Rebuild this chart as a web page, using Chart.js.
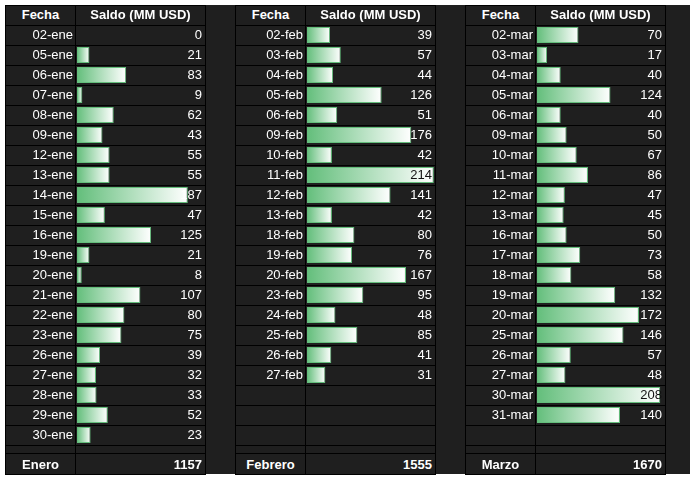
<!DOCTYPE html>
<html>
<head>
<meta charset="utf-8">
<script src="https://cdn.jsdelivr.net/npm/chart.js@4.4.1/dist/chart.umd.min.js"></script>
<style>
    html, body { margin: 0; padding: 0; background: #ffffff; }
    #sheet {
        position: absolute; left: 5px; top: 5px; width: 685px; height: 469px;
        background: #1f1f1f; color: #ffffff;
        font-family: "Liberation Sans", Arial, sans-serif; font-size: 13px;
    }
    .tbl { position: absolute; top: 0; width: 201px; height: 470px; }
    .hl { position: absolute; left: 0; width: 201px; height: 1px; background: #000; }
    .vl { position: absolute; top: 0; width: 1px; height: 470px; background: #000; }
    .txt { position: absolute; height: 20px; line-height: 20px; white-space: nowrap; z-index: 2; }
    .b { font-weight: bold; }
    canvas { position: absolute; z-index: 1; }
</style>
</head>
<body>
<div id="sheet"></div>
<script>
// Data
const monthNames = ['Enero', 'Febrero', 'Marzo'];
const headerLabels = ['Fecha', 'Saldo (MM USD)'];

const eneFechas = ['02-ene', '05-ene', '06-ene', '07-ene', '08-ene', '09-ene', '12-ene', '13-ene', '14-ene', '15-ene', '16-ene',
    '19-ene', '20-ene', '21-ene', '22-ene', '23-ene', '26-ene', '27-ene', '28-ene', '29-ene', '30-ene'];
const eneSaldo = [0, 21, 83, 9, 62, 43, 55, 55, 187, 47, 125, 21, 8, 107, 80, 75, 39, 32, 33, 52, 23];

const febFechas = ['02-feb', '03-feb', '04-feb', '05-feb', '06-feb', '09-feb', '10-feb', '11-feb', '12-feb', '13-feb',
    '18-feb', '19-feb', '20-feb', '23-feb', '24-feb', '25-feb', '26-feb', '27-feb'];
const febSaldo = [39, 57, 44, 126, 51, 176, 42, 214, 141, 42, 80, 76, 167, 95, 48, 85, 41, 31];

const marFechas = ['02-mar', '03-mar', '04-mar', '05-mar', '06-mar', '09-mar', '10-mar', '11-mar', '12-mar', '13-mar',
    '16-mar', '17-mar', '18-mar', '19-mar', '20-mar', '25-mar', '26-mar', '27-mar', '30-mar', '31-mar'];
const marSaldo = [70, 17, 40, 124, 40, 50, 67, 86, 47, 45, 50, 73, 58, 132, 172, 146, 57, 48, 208, 140];

const ROWS = 21;
const barGreen = '#63be7b';

const sheet = document.getElementById('sheet');
const measureCtx = document.createElement('canvas').getContext('2d');
measureCtx.font = '13px "Liberation Sans", Arial, sans-serif';

function addDiv(parent, cls, style, text) {
    const d = document.createElement('div');
    d.className = cls;
    Object.assign(d.style, style);
    if (text !== undefined) d.textContent = text;
    parent.appendChild(d);
    return d;
}

function barFill(ctx) {
    const chart = ctx.chart;
    const x = chart.scales.x;
    const v = ctx.raw;
    if (!x || v == null) return barGreen;
    const x0 = x.getPixelForValue(0);
    const x1 = x.getPixelForValue(v);
    if (!isFinite(x0) || !isFinite(x1) || x1 - x0 < 1) return barGreen;
    const g = chart.ctx.createLinearGradient(x0, 0, x1, 0);
    g.addColorStop(0, barGreen);
    g.addColorStop(1, '#ffffff');
    return g;
}

function buildTable(left, name, fechas, saldo) {
    const t = addDiv(sheet, 'tbl', { left: left + 'px' });

    // grid lines
    addDiv(t, 'hl', { top: '0px' });
    for (let i = 0; i <= ROWS; i++) addDiv(t, 'hl', { top: (20 + 20 * i) + 'px' });
    addDiv(t, 'hl', { top: '448px' });
    addDiv(t, 'hl', { top: '469px' });
    addDiv(t, 'vl', { left: '0px' });
    addDiv(t, 'vl', { left: '70px' });
    addDiv(t, 'vl', { left: '200px' });

    // header
    addDiv(t, 'txt b', { left: '1px', width: '69px', top: '0px', textAlign: 'center' }, headerLabels[0]);
    addDiv(t, 'txt b', { left: '71px', width: '129px', top: '0px', textAlign: 'center' }, headerLabels[1]);

    // rows
    const valueDivs = [];
    fechas.forEach((f, i) => {
        const top = (20 + 20 * i) + 'px';
        addDiv(t, 'txt', { left: '1px', width: '67px', top: top, textAlign: 'right' }, f);
        valueDivs.push(addDiv(t, 'txt', { left: '71px', width: '126px', top: top, textAlign: 'right' }, saldo[i]));
    });

    // total
    const total = saldo.reduce((a, b) => a + b, 0);
    addDiv(t, 'txt b', { left: '1px', width: '69px', top: '449px', height: '21px', lineHeight: '21px', textAlign: 'center' }, name);
    addDiv(t, 'txt b', { left: '71px', width: '126px', top: '449px', height: '21px', lineHeight: '21px', textAlign: 'right' }, total);

    // data bars
    const cv = document.createElement('canvas');
    cv.width = 128;
    cv.height = 420;
    cv.style.left = '72px';
    cv.style.top = '20px';
    t.appendChild(cv);

    const labels = [];
    const values = [];
    for (let i = 0; i < ROWS; i++) {
        labels.push(fechas[i] || '');
        values.push(i < saldo.length ? saldo[i] : null);
    }

    const chart = new Chart(cv.getContext('2d'), {
        type: 'bar',
        data: {
            labels: labels,
            datasets: [{
                data: values,
                backgroundColor: barFill,
                borderColor: barGreen,
                borderWidth: ctx => (ctx.raw > 0 ? 1 : 0),
                borderSkipped: false,
                barPercentage: 0.8,
                categoryPercentage: 1
            }]
        },
        options: {
            indexAxis: 'y',
            responsive: false,
            animation: false,
            layout: { padding: 0 },
            plugins: { legend: { display: false }, tooltip: { enabled: false } },
            scales: {
                x: { display: false, min: 0, max: 216 },
                y: { display: false }
            }
        }
    });
    chart.update();

    // dark text where the bar runs under most of the number
    saldo.forEach((v, i) => {
        const barEnd = 72 + chart.scales.x.getPixelForValue(v);
        const w = measureCtx.measureText(String(v)).width;
        const textMid = 197 - w / 2;
        if (barEnd > textMid) valueDivs[i].style.color = '#111111';
    });
}

buildTable(0, monthNames[0], eneFechas, eneSaldo);
buildTable(230, monthNames[1], febFechas, febSaldo);
buildTable(460, monthNames[2], marFechas, marSaldo);
</script>
</body>
</html>
